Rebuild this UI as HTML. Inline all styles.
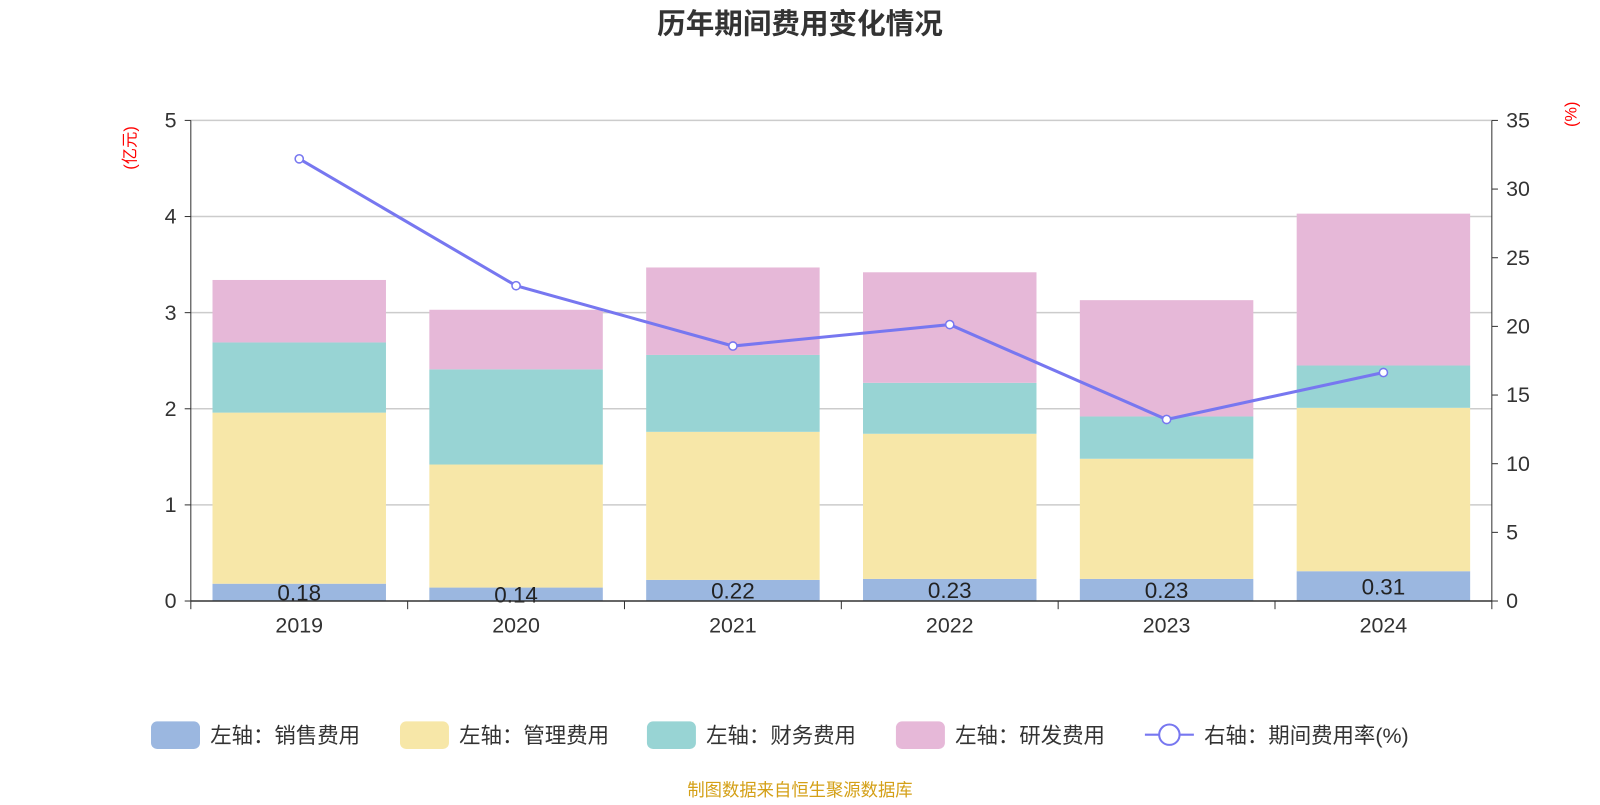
<!DOCTYPE html>
<html><head><meta charset="utf-8"><style>
body{margin:0;background:#fff;font-family:"Liberation Sans","Noto Sans CJK SC",sans-serif}
svg text{font-family:"Liberation Sans","Noto Sans CJK SC",sans-serif}
</style></head><body>
<svg id="c" width="1600" height="800" viewBox="0 0 1568 784">
<text x="784" y="33" text-anchor="middle" font-size="28" font-weight="bold" fill="#333">历年期间费用变化情况</text>
<text transform="translate(133,145) rotate(-90)" text-anchor="middle" font-size="16" fill="red">(亿元)</text>
<text transform="translate(1545,112) rotate(-90)" text-anchor="middle" font-size="16" fill="red">(%)</text>
<g id="grid"></g><g id="bars"></g><g id="line"></g><g id="axes"></g>
<g id="legend"></g>
<text x="784" y="780" text-anchor="middle" font-size="17" fill="#d4a017">制图数据来自恒生聚源数据库</text>
</svg>
<script>
const categories=["2019","2020","2021","2022","2023","2024"];
const sales=[0.18,0.14,0.22,0.23,0.23,0.31];
const mgmt=[1.78,1.28,1.54,1.51,1.25,1.70];
const fin=[0.73,0.99,0.80,0.53,0.44,0.44];
const rd=[0.65,0.62,0.91,1.15,1.21,1.58];
const rate=[32.2,22.96,18.57,20.13,13.22,16.64];
const leftTicks=[0,1,2,3,4,5];
const rightTicks=[0,5,10,15,20,25,30,35];
const NS="http://www.w3.org/2000/svg";
const X0=187,X1=1462,Y0=589,Y1=118;
const bw=(X1-X0)/categories.length;
const yL=v=>Y0-(v/5)*(Y0-Y1);
const yR=v=>Y0-(v/35)*(Y0-Y1);
const xc=i=>X0+bw*(i+0.5);
function mk(t,a,p){const e=document.createElementNS(NS,t);for(const k in a)e.setAttribute(k,a[k]);p.appendChild(e);return e;}
const grid=document.getElementById('grid'),axes=document.getElementById('axes'),bars=document.getElementById('bars'),line=document.getElementById('line'),leg=document.getElementById('legend');
leftTicks.forEach(v=>{
 if(v>0){const g=mk('line',{x1:X0,x2:X1,y1:yL(v),y2:yL(v),stroke:'#ccc','stroke-width':1.5},grid);
 
 }
 mk('line',{x1:X0-6,x2:X0,y1:yL(v),y2:yL(v),stroke:'#333'},axes);
 const t=mk('text',{x:X0-14,y:yL(v)+7,'text-anchor':'end','font-size':21,fill:'#333'},axes);t.textContent=v;
 
 
});
rightTicks.forEach(v=>{
 mk('line',{x1:X1,x2:X1+6,y1:yR(v),y2:yR(v),stroke:'#333'},axes);
 const t=mk('text',{x:X1+14,y:yR(v)+7,'font-size':21,fill:'#333'},axes);t.textContent=v;
 
 
});
mk('line',{x1:X0,x2:X0,y1:Y1,y2:Y0,stroke:'#333'},axes);
mk('line',{x1:X1,x2:X1,y1:Y1,y2:Y0,stroke:'#333'},axes);
mk('line',{x1:X0,x2:X1,y1:Y0,y2:Y0,stroke:'#333','stroke-width':1.5},axes);
for(let i=0;i<=categories.length;i++)mk('line',{x1:X0+bw*i,x2:X0+bw*i,y1:Y0,y2:Y0+8,stroke:'#333'},axes);
categories.forEach((c,i)=>{const t=mk('text',{x:xc(i),y:620,'text-anchor':'middle','font-size':21,fill:'#333'},axes);t.textContent=c;
 
 });
const series=[[sales,'#9bb7e0','sales'],[mgmt,'#f7e7a8','mgmt'],[fin,'#98d4d4','fin'],[rd,'#e6b8d8','rd']];
categories.forEach((c,i)=>{let base=0;
 series.forEach(([arr,col,n])=>{const r=mk('rect',{x:xc(i)-85,width:170,y:yL(base+arr[i]),height:yL(base)-yL(base+arr[i]),fill:col},bars);
 
 
 base+=arr[i];});
 const t=mk('text',{x:xc(i),y:yL(sales[i]/2)+8,'text-anchor':'middle','font-size':22,fill:'#222'},bars);t.textContent=sales[i].toFixed(2);
 
 
});
const pl=mk('polyline',{points:rate.map((v,i)=>xc(i)+','+yR(v)).join(' '),fill:'none',stroke:'#7777f0','stroke-width':3},line);


rate.forEach((v,i)=>{const p=mk('circle',{cx:xc(i),cy:yR(v),r:4,fill:'#fff',stroke:'#7777f0','stroke-width':1.5},line);
 
 });
const items=[['#9bb7e0','左轴：销售费用',148],['#f7e7a8','左轴：管理费用',392],['#98d4d4','左轴：财务费用',634],['#e6b8d8','左轴：研发费用',878]];
items.forEach(([col,lab,x])=>{const g=mk('g',{},leg);
 
 
 mk('rect',{x:x,y:707,width:48,height:27,rx:6,fill:col},g);
 const t=mk('text',{x:x+58,y:728,'font-size':21,fill:'#333'},g);t.textContent=lab;});
const g=mk('g',{},leg);


mk('line',{x1:1122,x2:1170,y1:720,y2:720,stroke:'#7777f0','stroke-width':2},g);
mk('circle',{cx:1146,cy:720,r:10,fill:'#fff',stroke:'#7777f0','stroke-width':2},g);
const t=mk('text',{x:1180,y:728,'font-size':21,fill:'#333'},g);t.textContent='右轴：期间费用率(%)';
</script>
</body></html>
